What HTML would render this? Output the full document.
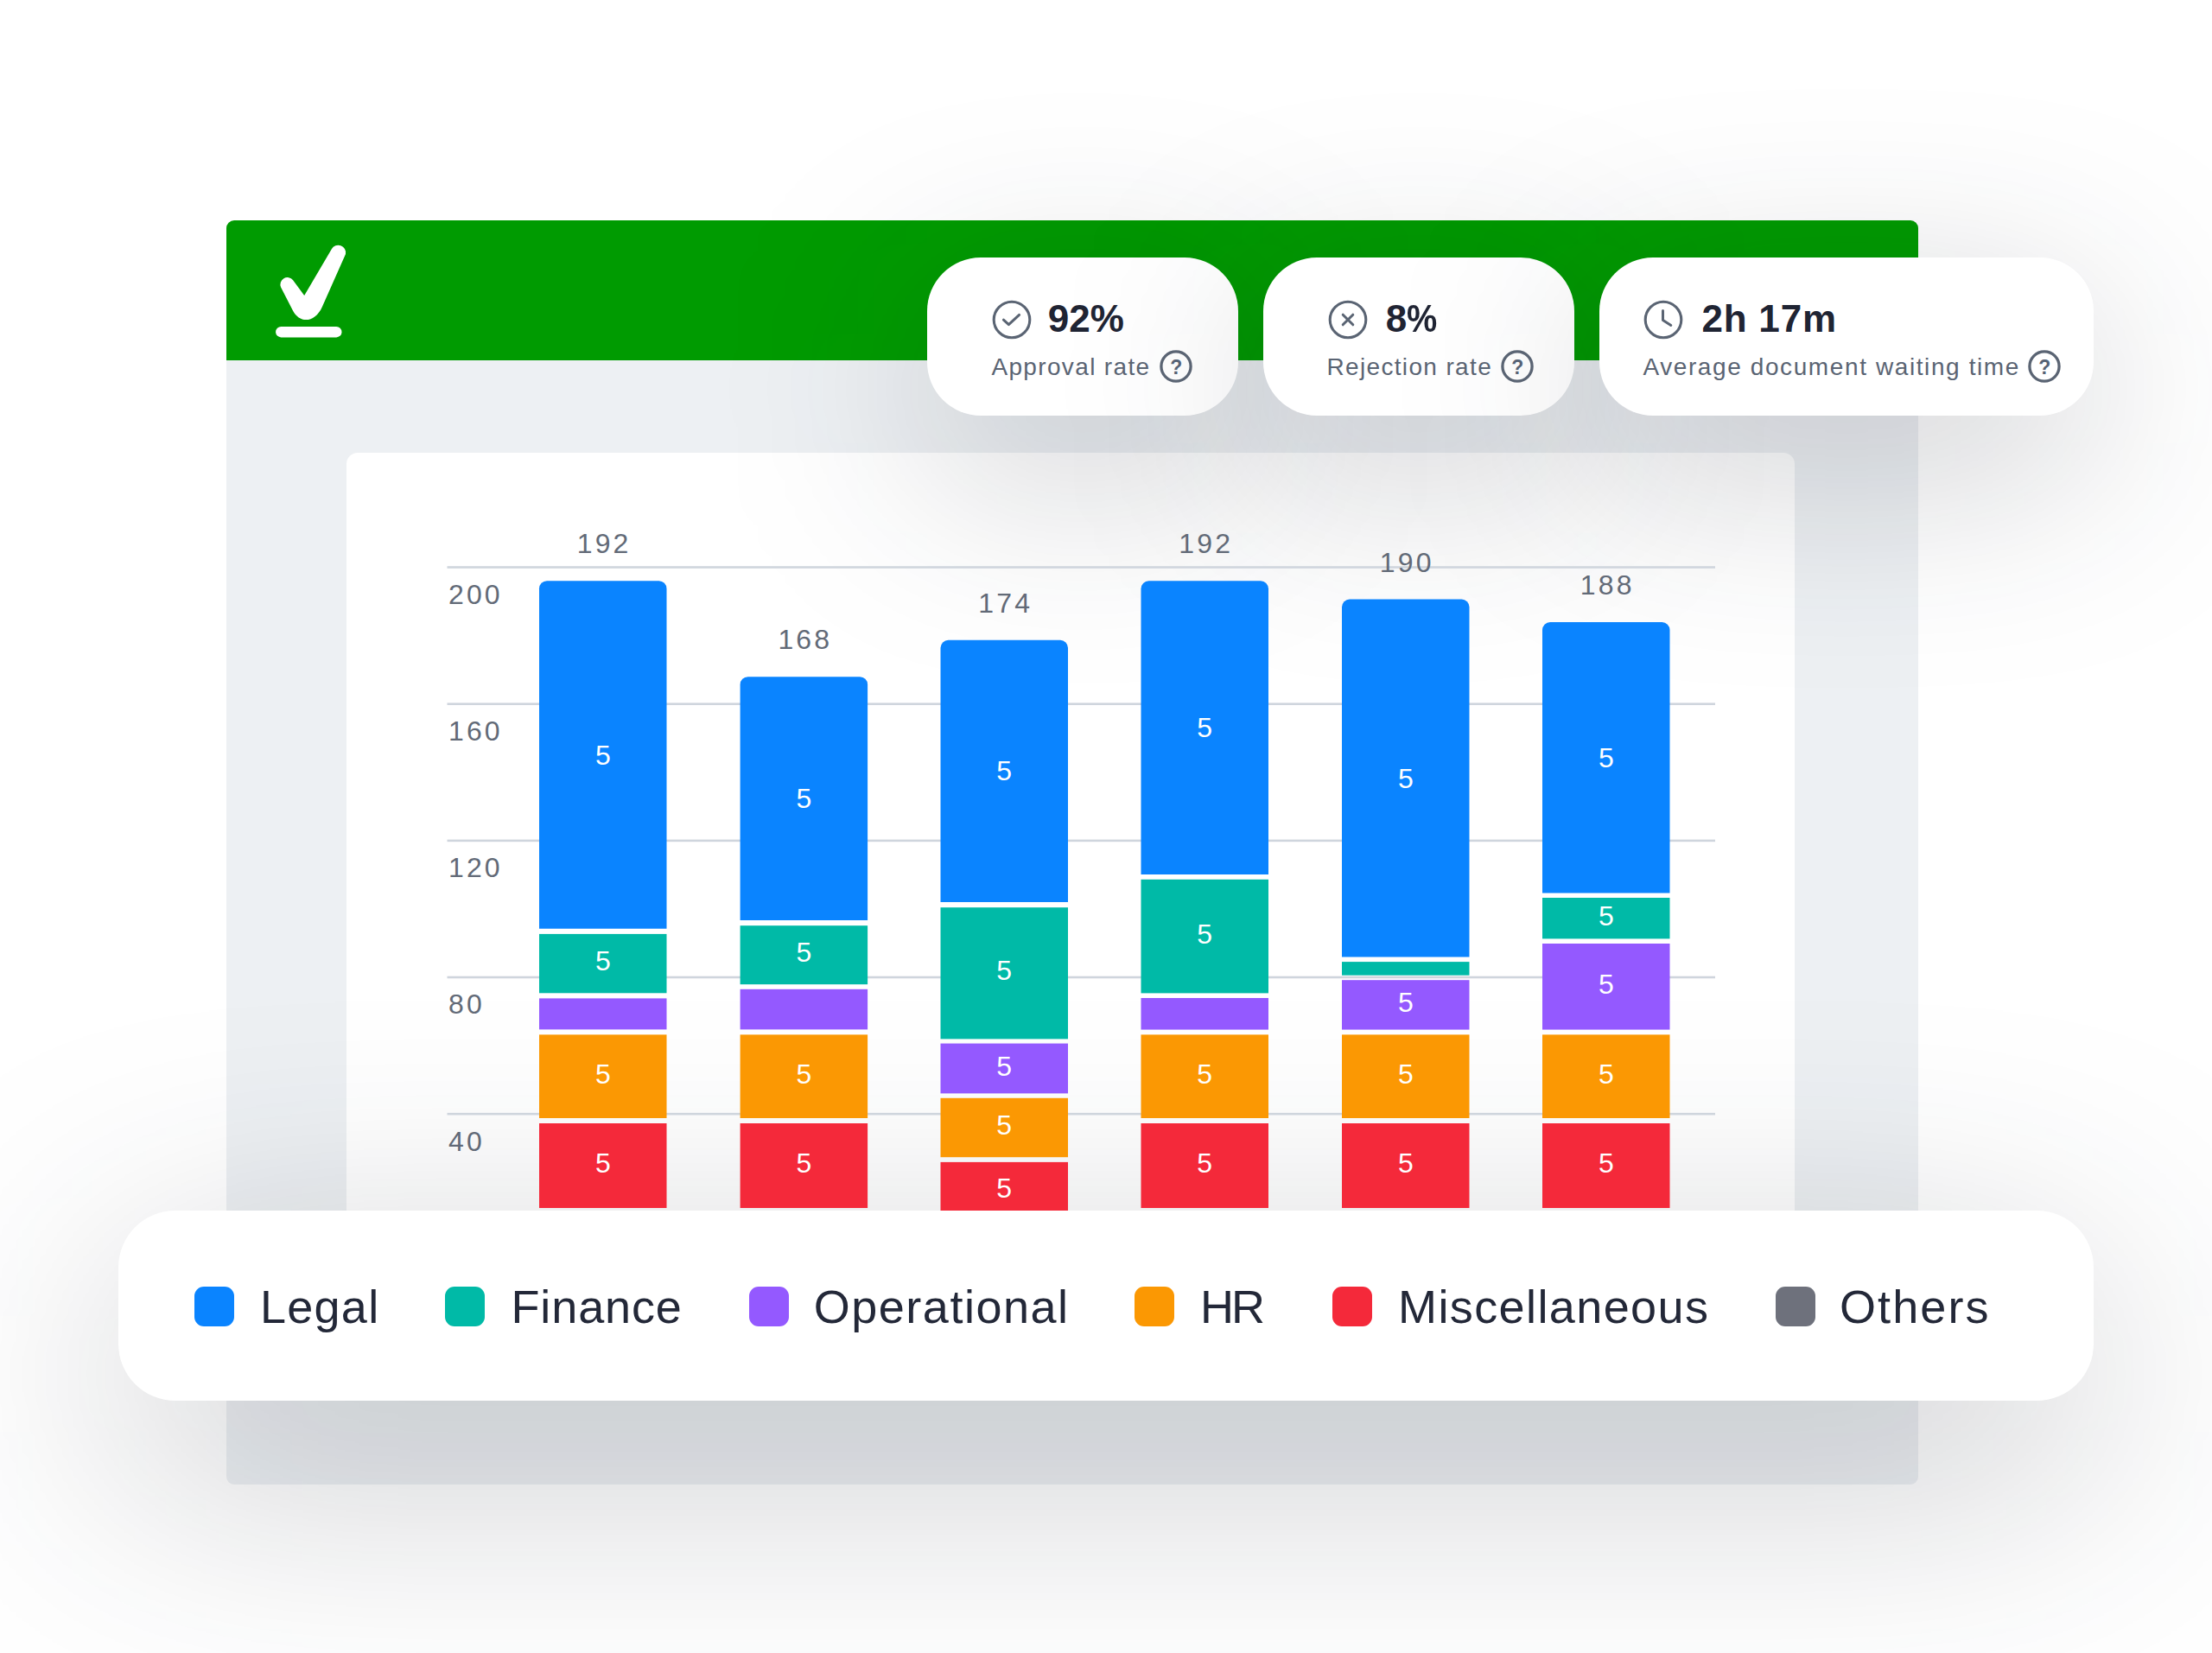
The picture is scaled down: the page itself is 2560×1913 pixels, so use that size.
<!DOCTYPE html>
<html lang="en">
<head>
<meta charset="utf-8">
<title>Approval analytics</title>
<style>
*{margin:0;padding:0;box-sizing:border-box}
html,body{width:2560px;height:1913px;overflow:hidden;background:#fff}
body{position:relative;font-family:"Liberation Sans",sans-serif}
.panel{position:absolute;left:262px;top:255px;width:1958px;height:1463px;background:#edf0f3;border-radius:9px;overflow:hidden}
.hdr{position:absolute;left:0;top:0;width:100%;height:162px;background:#009b01}
.logo{position:absolute;left:48px;top:20px}
.wcard{position:absolute;left:139px;top:269px;width:1676px;height:960px;background:#fff;border-radius:13px}
.chart{position:absolute;left:0;top:0;width:2560px;height:1420px;overflow:hidden}
.chart text{font-family:"Liberation Sans",sans-serif}
.ax{font-size:32px;fill:#626a77;letter-spacing:3.1px}
.tot{font-size:32px;fill:#626a77;letter-spacing:3.1px;text-anchor:middle}
.sv{font-size:32px;fill:#fff;text-anchor:middle}
.stat{position:absolute;top:298px;height:183px;background:#fff;border-radius:62px;overflow:hidden}
.sh.csh{border-radius:62px;filter:blur(120px);background:rgba(22,28,40,.23)}
.sicon{position:absolute;top:45.5px}
.sval{position:absolute;top:46px;font-size:44px;line-height:50px;font-weight:700;color:#1f2433;letter-spacing:1.5px;white-space:nowrap}
.pc{display:inline-block;transform:scaleX(.9);transform-origin:0 50%}
.slab{position:absolute;top:110px;font-size:28px;line-height:34px;color:#5a6473;white-space:nowrap}
.qicon{position:absolute;top:103.5px}
.legend{position:absolute;left:137px;top:1400.5px;width:2286px;height:220px;background:#fff;border-radius:66px}
.sw{position:absolute;top:88px;width:46px;height:46px;border-radius:11px}
.lt{position:absolute;top:79px;font-size:54px;line-height:64px;color:#232838;white-space:nowrap}
.sh{position:absolute;background:rgba(22,28,40,.255);filter:blur(150px)}
</style>
</head>
<body>
<div class="panel">
  <div class="hdr">
    <svg class="logo" width="120" height="130" viewBox="0 0 120 130">
      <path d="M15.1 57.5 A8.2 8.2 0 0 1 29.1 49.2 L42.2 66.9 L73.8 13.2 A8.7 8.7 0 0 1 90 18.9 L62.8 80.2 C55.1 97.6 37.4 100.9 28.7 84 Z" fill="#fff"/>
      <rect x="9.1" y="102.9" width="76.4" height="12.5" rx="6.25" fill="#fff"/>
    </svg>
  </div>
  <div class="wcard"></div>
</div>
<div class="sh csh" style="left:1073px;top:358px;width:360px;height:183px"></div>
<div class="sh csh" style="left:1462px;top:358px;width:360px;height:183px"></div>
<div class="sh csh" style="left:1851px;top:358px;width:572px;height:183px"></div>
<div class="sh" style="left:137px;top:1480px;width:2286px;height:220px;border-radius:66px"></div>
<svg class="chart" viewBox="0 0 2560 1420" width="2560" height="1420">
<rect x="517.5" y="655.2" width="1467.5" height="2.6" fill="#cfd5dd"/>
<rect x="517.5" y="813.4" width="1467.5" height="2.6" fill="#cfd5dd"/>
<rect x="517.5" y="971.6" width="1467.5" height="2.6" fill="#cfd5dd"/>
<rect x="517.5" y="1129.7" width="1467.5" height="2.6" fill="#cfd5dd"/>
<rect x="517.5" y="1287.9" width="1467.5" height="2.6" fill="#cfd5dd"/>
<text class="ax" x="519" y="698.9">200</text>
<text class="ax" x="519" y="857.1">160</text>
<text class="ax" x="519" y="1015.3">120</text>
<text class="ax" x="519" y="1173.4">80</text>
<text class="ax" x="519" y="1331.6">40</text>
<path fill="#0a84ff" d="M624.0 1074.8 V681.2 a9 9 0 0 1 9 -9 H762.5 a9 9 0 0 1 9 9 V1074.8 Z"/>
<rect fill="#00baa7" x="624.0" y="1080.9" width="147.5" height="68.4"/>
<rect fill="#9459ff" x="624.0" y="1155.4" width="147.5" height="36.0"/>
<rect fill="#fb9803" x="624.0" y="1197.4" width="147.5" height="96.6"/>
<rect fill="#f4293a" x="624.0" y="1300.0" width="147.5" height="98.0"/>
<text class="tot" x="699.1" y="640.2">192</text>
<path fill="#0a84ff" d="M856.6 1065.0 V792.2 a9 9 0 0 1 9 -9 H995.1 a9 9 0 0 1 9 9 V1065.0 Z"/>
<rect fill="#00baa7" x="856.6" y="1071.2" width="147.5" height="68.0"/>
<rect fill="#9459ff" x="856.6" y="1144.8" width="147.5" height="46.6"/>
<rect fill="#fb9803" x="856.6" y="1197.4" width="147.5" height="96.6"/>
<rect fill="#f4293a" x="856.6" y="1300.0" width="147.5" height="98.0"/>
<text class="tot" x="931.8" y="751.2">168</text>
<path fill="#0a84ff" d="M1088.5 1044.0 V749.8 a9 9 0 0 1 9 -9 H1227.0 a9 9 0 0 1 9 9 V1044.0 Z"/>
<rect fill="#00baa7" x="1088.5" y="1050.2" width="147.5" height="152.2"/>
<rect fill="#9459ff" x="1088.5" y="1207.6" width="147.5" height="57.8"/>
<rect fill="#fb9803" x="1088.5" y="1270.8" width="147.5" height="68.4"/>
<rect fill="#f4293a" x="1088.5" y="1344.9" width="147.5" height="75.1"/>
<text class="tot" x="1163.7" y="708.8">174</text>
<path fill="#0a84ff" d="M1320.5 1011.9 V681.3 a9 9 0 0 1 9 -9 H1459.0 a9 9 0 0 1 9 9 V1011.9 Z"/>
<rect fill="#00baa7" x="1320.5" y="1017.8" width="147.5" height="131.6"/>
<rect fill="#9459ff" x="1320.5" y="1155.0" width="147.5" height="36.6"/>
<rect fill="#fb9803" x="1320.5" y="1197.4" width="147.5" height="96.6"/>
<rect fill="#f4293a" x="1320.5" y="1300.0" width="147.5" height="98.0"/>
<text class="tot" x="1395.7" y="640.3">192</text>
<path fill="#0a84ff" d="M1553.0 1107.5 V702.5 a9 9 0 0 1 9 -9 H1691.5 a9 9 0 0 1 9 9 V1107.5 Z"/>
<rect fill="#00baa7" x="1553.0" y="1113.1" width="147.5" height="15.6"/>
<rect fill="#9459ff" x="1553.0" y="1134.2" width="147.5" height="57.4"/>
<rect fill="#fb9803" x="1553.0" y="1197.4" width="147.5" height="96.6"/>
<rect fill="#f4293a" x="1553.0" y="1300.0" width="147.5" height="98.0"/>
<text class="tot" x="1628.2" y="661.5">190</text>
<path fill="#0a84ff" d="M1785.0 1033.4 V729.1 a9 9 0 0 1 9 -9 H1923.5 a9 9 0 0 1 9 9 V1033.4 Z"/>
<rect fill="#00baa7" x="1785.0" y="1039.0" width="147.5" height="47.4"/>
<rect fill="#9459ff" x="1785.0" y="1092.0" width="147.5" height="99.6"/>
<rect fill="#fb9803" x="1785.0" y="1197.4" width="147.5" height="96.6"/>
<rect fill="#f4293a" x="1785.0" y="1300.0" width="147.5" height="98.0"/>
<text class="tot" x="1860.2" y="688.1">188</text>
<text class="sv" x="697.8" y="884.5">5</text>
<text class="sv" x="697.8" y="1123.1">5</text>
<text class="sv" x="697.8" y="1253.7">5</text>
<text class="sv" x="697.8" y="1357.0">5</text>
<text class="sv" x="930.4" y="935.1">5</text>
<text class="sv" x="930.4" y="1113.2">5</text>
<text class="sv" x="930.4" y="1253.7">5</text>
<text class="sv" x="930.4" y="1357.0">5</text>
<text class="sv" x="1162.2" y="903.4">5</text>
<text class="sv" x="1162.2" y="1134.3">5</text>
<text class="sv" x="1162.2" y="1244.5">5</text>
<text class="sv" x="1162.2" y="1313.0">5</text>
<text class="sv" x="1394.2" y="853.1">5</text>
<text class="sv" x="1394.2" y="1091.6">5</text>
<text class="sv" x="1394.2" y="1253.7">5</text>
<text class="sv" x="1394.2" y="1357.0">5</text>
<text class="sv" x="1626.8" y="911.5">5</text>
<text class="sv" x="1626.8" y="1170.9">5</text>
<text class="sv" x="1626.8" y="1253.7">5</text>
<text class="sv" x="1626.8" y="1357.0">5</text>
<text class="sv" x="1858.8" y="887.8">5</text>
<text class="sv" x="1858.8" y="1070.7">5</text>
<text class="sv" x="1858.8" y="1149.8">5</text>
<text class="sv" x="1858.8" y="1253.7">5</text>
<text class="sv" x="1858.8" y="1357.0">5</text>
<text class="sv" x="1162.2" y="1385.5">5</text>
</svg>
<div class="stat" style="left:1073px;width:360px"><div class="sh csh" style="left:389px;top:60px;width:360px;height:183px"></div><div class="sh csh" style="left:778px;top:60px;width:572px;height:183px"></div>
  <svg class="sicon" style="left:71.9px" width="52" height="52" viewBox="-26 -26 52 52"><circle r="20.8" fill="none" stroke="#5a6473" stroke-width="3.1"/><path d="M-9.6 0.2 L-3.6 5.6 L8.6 -5.6" fill="none" stroke="#5a6473" stroke-width="3" stroke-linecap="round" stroke-linejoin="round"/></svg>
  <div class="sval" style="left:139.7px;letter-spacing:0.0px">92%</div>
  <div class="slab" style="left:74.4px;letter-spacing:1.35px">Approval rate</div>
  <svg class="qicon" style="left:265.7px" width="44" height="44" viewBox="-22 -22 44 44"><circle r="17.1" fill="none" stroke="#5a6473" stroke-width="3.3"/><text x="0.2" y="8.6" text-anchor="middle" font-family="Liberation Sans, sans-serif" font-weight="700" font-size="23" fill="#566275">?</text></svg>
</div>
<div class="stat" style="left:1462px;width:360px"><div class="sh csh" style="left:389px;top:60px;width:572px;height:183px"></div>
  <svg class="sicon" style="left:72.3px" width="52" height="52" viewBox="-26 -26 52 52"><circle r="20.8" fill="none" stroke="#5a6473" stroke-width="3.1"/><path d="M-5.8 -5.8 L5.8 5.8 M5.8 -5.8 L-5.8 5.8" fill="none" stroke="#5a6473" stroke-width="3" stroke-linecap="round"/></svg>
  <div class="sval" style="left:141.7px;letter-spacing:0px">8<span class="pc">%</span></div>
  <div class="slab" style="left:73.4px;letter-spacing:1.35px">Rejection rate</div>
  <svg class="qicon" style="left:271.8px" width="44" height="44" viewBox="-22 -22 44 44"><circle r="17.1" fill="none" stroke="#5a6473" stroke-width="3.3"/><text x="0.2" y="8.6" text-anchor="middle" font-family="Liberation Sans, sans-serif" font-weight="700" font-size="23" fill="#566275">?</text></svg>
</div>
<div class="stat" style="left:1851px;width:572px">
  <svg class="sicon" style="left:48.4px" width="52" height="52" viewBox="-26 -26 52 52"><circle r="20.8" fill="none" stroke="#5a6473" stroke-width="3.1"/><path d="M-0.5 -10.5 V0.5 L8.8 6.5" fill="none" stroke="#5a6473" stroke-width="3" stroke-linecap="round" stroke-linejoin="round"/></svg>
  <div class="sval" style="left:118.4px;letter-spacing:0.8px">2h 17m</div>
  <div class="slab" style="left:50.4px;letter-spacing:1.6px">Average document waiting time</div>
  <svg class="qicon" style="left:493.0px" width="44" height="44" viewBox="-22 -22 44 44"><circle r="17.1" fill="none" stroke="#5a6473" stroke-width="3.3"/><text x="0.2" y="8.6" text-anchor="middle" font-family="Liberation Sans, sans-serif" font-weight="700" font-size="23" fill="#566275">?</text></svg>
</div>
<div class="legend">
<div class="sw" style="left:88.3px;background:#0a84ff"></div><div class="lt" style="left:164.0px;letter-spacing:1.25px">Legal</div>
<div class="sw" style="left:378.0px;background:#00baa7"></div><div class="lt" style="left:454.5px;letter-spacing:0.88px">Finance</div>
<div class="sw" style="left:729.8px;background:#9459ff"></div><div class="lt" style="left:804.8px;letter-spacing:1.5px">Operational</div>
<div class="sw" style="left:1176.0px;background:#fb9803"></div><div class="lt" style="left:1252.0px;letter-spacing:-3.1px">HR</div>
<div class="sw" style="left:1405.1px;background:#f4293a"></div><div class="lt" style="left:1481.0px;letter-spacing:1.4px">Miscellaneous</div>
<div class="sw" style="left:1917.8px;background:#6e717c"></div><div class="lt" style="left:1992.0px;letter-spacing:2.1px">Others</div>
</div>
</body>
</html>
